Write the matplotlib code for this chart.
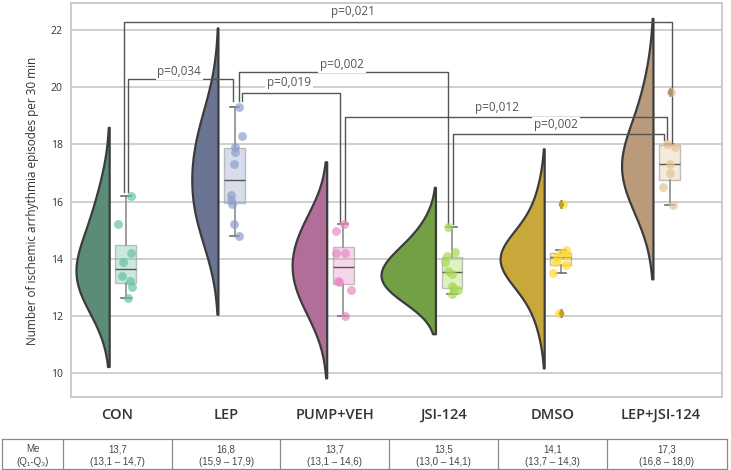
import numpy as np
import matplotlib
matplotlib.use("Agg")
import matplotlib.pyplot as plt
import matplotlib.transforms as mtransforms
from matplotlib import font_manager
from matplotlib.colors import to_rgba

plt.rcParams['font.family'] = ['Open Sans', 'DejaVu Sans']

# данные
groups = ["CON", "LEP", "PUMP+VEH", "JSI-124", "DMSO", "LEP+JSI-124"]

con      = [12.62, 13.0, 13.22, 13.4, 13.9, 14.21, 15.22, 16.2]
lep      = [14.81, 15.2, 15.92, 16.05, 16.23, 17.3, 17.72, 17.92, 18.29, 19.32]
pump_veh = [12.0, 12.91, 13.2, 13.23, 14.19, 14.21, 14.98, 15.22]
jsi      = [12.77, 12.91, 12.95, 13.05, 13.48, 13.58, 13.9, 14.11, 14.23, 15.1]
dmso     = [12.09, 13.49, 13.78, 13.9, 14.07, 14.12, 14.21, 14.31, 15.93]
lep_jsi  = [15.88, 16.5, 17.01, 17.31, 17.92, 18.01, 19.82]
values = [con, lep, pump_veh, jsi, dmso, lep_jsi]

table_head = ["Me", "(Q₁-Q₃)"]
medians   = ["13,7", "16,8", "13,7", "13,5", "14,1", "17,3"]
iqr_text  = ["(13,1 – 14,7)", "(15,9 – 17,9)", "(13,1 – 14,6)",
             "(13,0 – 14,1)", "(13,7 – 14,3)", "(16,8 – 18,0)"]

# сравнения: (группа a, группа b, подпись)
pairs = [(0, 5, "p=0,021"), (0, 1, "p=0,034"), (1, 3, "p=0,002"),
         (1, 2, "p=0,019"), (2, 5, "p=0,012"), (3, 5, "p=0,002")]

# раскладка скобок
bracket_top = [22.29, 20.30, 20.52, 19.79, 18.95, 18.36]
leg_dx      = [(-0.021, 0.018), (0.018, -0.018), (0.041, -0.033),
               (0.069, -0.028), (0.018, -0.028), (0.009, -0.055)]
leg_bottom  = [(16.34, 18.0), (16.34, 19.5), (19.5, 15.2),
               (19.5, 15.28), (15.28, 18.15), (15.2, 18.15)]
text_xy     = [(2.17, 22.64), (0.568, 20.54), (2.066, 20.78),
               (1.579, 20.17), (3.49, 19.28), (4.033, 18.68)]

violin_colors = ["#5a8c77", "#6a7493", "#b06e98", "#73a044", "#c9a83b", "#b99a7a"]
point_colors  = ["#66c2a5", "#8da0cb", "#e78ac3", "#a6d854", "#ffd92f", "#e5c494"]


def kde(vals, bw_adjust=1.5, cut=2, n=300):
    v = np.asarray(vals)
    bw = bw_adjust * v.std(ddof=1) * len(v) ** (-1 / 5)
    y = np.linspace(v.min() - cut * bw, v.max() + cut * bw, n)
    d = np.exp(-0.5 * ((y[:, None] - v[None, :]) / bw) ** 2).sum(1)
    d /= len(v) * bw * np.sqrt(2 * np.pi)
    return y, d


fig = plt.figure(figsize=(7.31, 4.70), dpi=100)
ax = fig.add_axes([71 / 731, 73 / 470, 651 / 731, 394 / 470])

pos = np.arange(len(groups))
edge_pos = pos - 0.075
box_pos = pos + 0.078

# половинки скрипок (масштаб по площади)
kdes = [kde(v) for v in values]
scale = 0.5 / max(d.max() for _, d in kdes)
for (y, d), x0, c in zip(kdes, edge_pos, violin_colors):
    ax.fill_betweenx(y, x0 - d * scale, x0, facecolor=c, edgecolor='#3c3c3c',
                     lw=1.6, zorder=2)

bp = ax.boxplot(values, positions=box_pos, widths=0.19, patch_artist=True,
                capwidths=0.09, manage_ticks=False,
                medianprops=dict(color='#555555', lw=1.0),
                whiskerprops=dict(color='#8c8c8c', lw=1.2),
                capprops=dict(color='#707070', lw=1.2),
                flierprops=dict(marker='d', markerfacecolor='#222222',
                                markeredgecolor='#222222', markersize=4),
                zorder=3)
for patch, c in zip(bp['boxes'], point_colors):
    patch.set_facecolor(to_rgba(c, 0.35))
    patch.set_edgecolor(to_rgba('#9a9a9a', 0.6))
    patch.set_linewidth(1.0)

rng = np.random.default_rng(7)
for v, xb, c in zip(values, box_pos, point_colors):
    jit = rng.uniform(-0.07, 0.07, len(v))
    ax.plot(xb + jit, v, 'o', ms=6.4, color=c, alpha=0.7, mec='none', zorder=4)

# скобки с p-значениями
for k, (a, b, lab) in enumerate(pairs):
    xa = box_pos[a] + leg_dx[k][0]
    xb = box_pos[b] + leg_dx[k][1]
    top = bracket_top[k]
    ax.plot([xa, xa, xb, xb], [leg_bottom[k][0], top, top, leg_bottom[k][1]],
            color='#555555', lw=1.0, zorder=2.8, clip_on=False)
    ax.text(text_xy[k][0], text_xy[k][1], lab, ha='center', va='center',
            fontsize=8.5, color='#555555', zorder=3.5, clip_on=False,
            bbox=dict(facecolor='white', edgecolor='none', pad=1.2))

ax.set_xlim(-0.426, 5.56)
ax.set_ylim(9.16, 22.945)
ax.set_yticks(range(10, 23, 2))
ax.set_xticks(pos)
ax.set_xticklabels(groups, fontsize=10.5, fontweight='semibold', color='#333333')
ax.tick_params(axis='x', length=0, pad=8)
ax.tick_params(axis='y', length=0, pad=6, labelsize=7.5, labelcolor='#333333')
ax.grid(axis='y', color='#cccccc', lw=1.3)
ax.set_axisbelow(True)
for s in ax.spines.values():
    s.set_color('#c8c8c8')
    s.set_linewidth(1.3)
ax.set_ylabel("Number of ischemic arrhythmia episodes per 30 min",
              fontsize=8.5, color='#333333')
ax.yaxis.set_label_coords(-0.049, 0.497)

# таблица медиан
narrow = 'Liberation Sans Narrow'
try:
    font_manager.findfont(narrow, fallback_to_default=False)
    tab_size = 8
except ValueError:
    narrow = 'Liberation Sans'
    tab_size = 7

trans = mtransforms.blended_transform_factory(ax.transData, fig.transFigure)
t_top, t_bot = 1 - 439 / 470, 1 - 469 / 470
row1, row2 = 1 - 449.5 / 470, 1 - 462 / 470
bounds = [-1.06] + list(pos - 0.5) + [5.605]
line_kw = dict(color='#8a8a8a', lw=0.9, transform=trans, clip_on=False)
ax.plot([bounds[0], bounds[-1]], [t_top, t_top], **line_kw)
ax.plot([bounds[0], bounds[-1]], [t_bot, t_bot], **line_kw)
for bx in bounds:
    ax.plot([bx, bx], [t_top, t_bot], **line_kw)

cells = [table_head] + [[m, q] for m, q in zip(medians, iqr_text)]
for k, (l1, l2) in enumerate(cells):
    xc = (bounds[k] + bounds[k + 1]) / 2
    for txt, yy in ((l1, row1), (l2, row2)):
        ax.text(xc, yy, txt, transform=trans, ha='center', va='center',
                fontsize=tab_size, color='#444444', family=[narrow, 'DejaVu Sans'],
                clip_on=False)

fig.savefig("out.png", dpi=100)
